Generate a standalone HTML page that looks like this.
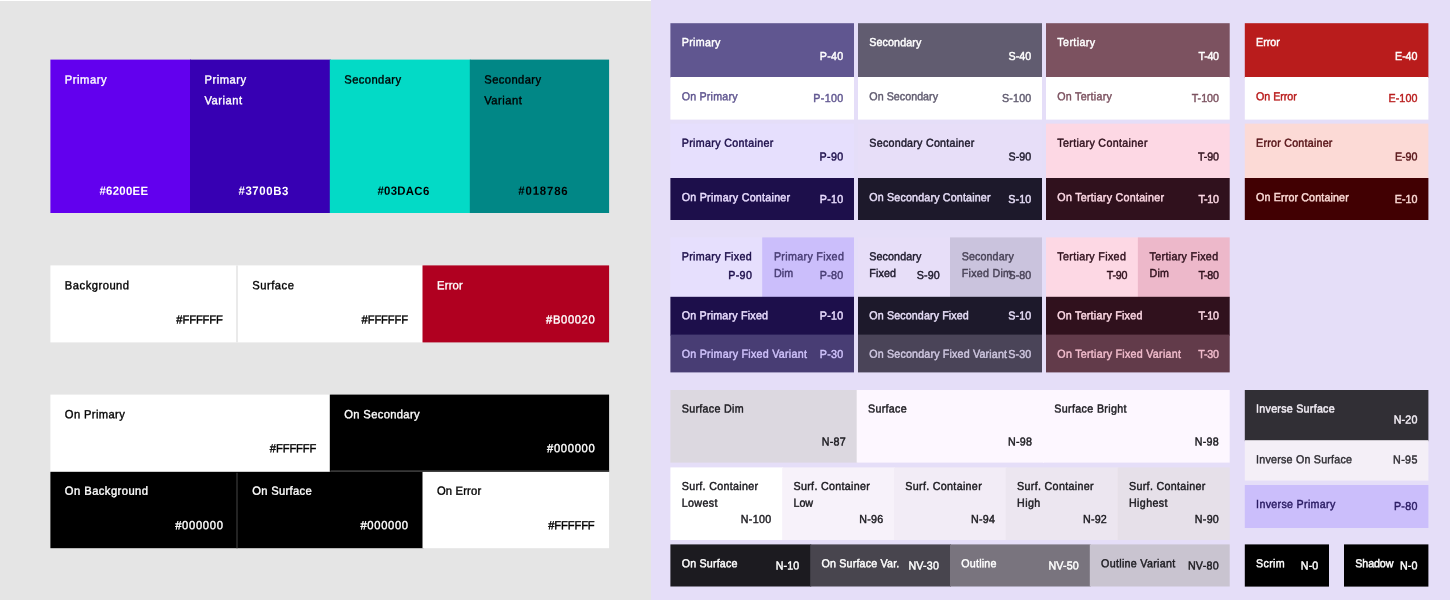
<!DOCTYPE html>
<html lang="en">
<head>
<meta charset="utf-8">
<title>Color system</title>
<style>
html,body{margin:0;padding:0;}
body{width:1450px;height:600px;overflow:hidden;position:relative;background:#E5DEF8;font-family:"Liberation Sans",sans-serif;}
#bg{position:absolute;left:0;top:0;width:1450px;height:600px;display:block;}
.t{position:absolute;white-space:nowrap;margin:0;padding:0;}
.L{font-size:11.2px;line-height:20px;letter-spacing:0px;font-weight:400;-webkit-text-stroke:0.35px currentColor;}
.LB{font-size:11.4px;line-height:20px;letter-spacing:0px;font-weight:700;}
.LC{font-size:11.2px;line-height:20px;letter-spacing:0px;font-weight:400;-webkit-text-stroke:0.35px currentColor;}
.R{font-size:10.7px;line-height:16px;letter-spacing:0.3px;font-weight:400;-webkit-text-stroke:0.42px currentColor;}
</style>
</head>
<body>
<svg id="bg" width="1450" height="600" viewBox="0 0 1450 600">
<rect x="0" y="0" width="651" height="600" fill="#E5E5E5"/>
<rect x="0" y="0" width="651" height="1" fill="#FFFFFF"/>
<rect x="50.4" y="59.6" width="140.6" height="153.4" fill="#6200EE"/>
<rect x="190" y="59.6" width="140.8" height="153.4" fill="#3700B3"/>
<rect x="329.8" y="59.6" width="141" height="153.4" fill="#03DAC6"/>
<rect x="469.8" y="59.6" width="139.3" height="153.4" fill="#018786"/>
<rect x="50.4" y="265.4" width="373.1" height="77" fill="#FFFFFF"/>
<rect x="422.5" y="265.4" width="186.6" height="77" fill="#B00020"/>
<rect x="50.4" y="394.6" width="280.4" height="78.2" fill="#FFFFFF"/>
<rect x="329.8" y="394.6" width="279.3" height="77.2" fill="#000000"/>
<rect x="50.4" y="471.8" width="373.1" height="76.4" fill="#000000"/>
<rect x="422.5" y="471.8" width="186.6" height="76.4" fill="#FFFFFF"/>
<rect x="236.3" y="472.8" width="1.4" height="75.4" fill="#333333"/>
<rect x="236.2" y="265.4" width="1.6" height="77" fill="#E5E5E5"/>
<rect x="330.6" y="470.3" width="278.5" height="1.5" fill="#3C3C3C"/>
<rect x="651" y="0" width="799" height="600" fill="#E5DEF8"/>
<rect x="670.4" y="23.2" width="183.6" height="54.8" fill="#605690"/>
<rect x="670.4" y="77" width="183.6" height="42.6" fill="#FFFFFF"/>
<rect x="670.4" y="123.6" width="183.6" height="55.4" fill="#E6DFFD"/>
<rect x="670.4" y="178" width="183.6" height="42" fill="#1D0F4B"/>
<rect x="858" y="23.2" width="184" height="54.8" fill="#615C70"/>
<rect x="858" y="77" width="184" height="42.6" fill="#FFFFFF"/>
<rect x="858" y="123.6" width="184" height="55.4" fill="#E7DEF8"/>
<rect x="858" y="178" width="184" height="42" fill="#1D192B"/>
<rect x="1046" y="23.2" width="183.7" height="54.8" fill="#7C5260"/>
<rect x="1046" y="77" width="183.7" height="42.6" fill="#FFFFFF"/>
<rect x="1046" y="123.6" width="183.7" height="55.4" fill="#FDD8E4"/>
<rect x="1046" y="178" width="183.7" height="42" fill="#30111D"/>
<rect x="1244.8" y="23.2" width="183.6" height="54.8" fill="#B91C1C"/>
<rect x="1244.8" y="77" width="183.6" height="42.6" fill="#FFFFFF"/>
<rect x="1244.8" y="123.6" width="183.6" height="55.4" fill="#FCDAD6"/>
<rect x="1244.8" y="178" width="183.6" height="42" fill="#410002"/>
<rect x="670.4" y="237.4" width="92.8" height="60.4" fill="#E6DFFD"/>
<rect x="762.2" y="237.4" width="91.8" height="60.4" fill="#CBBEFB"/>
<rect x="670.4" y="296.8" width="183.6" height="38.8" fill="#1D0F4B"/>
<rect x="670.4" y="334.6" width="183.6" height="37.8" fill="#483D74"/>
<rect x="858" y="237.4" width="93" height="60.4" fill="#E7DEF8"/>
<rect x="950" y="237.4" width="92" height="60.4" fill="#CAC3DD"/>
<rect x="858" y="296.8" width="184" height="38.8" fill="#1D192B"/>
<rect x="858" y="334.6" width="184" height="37.8" fill="#4A4458"/>
<rect x="1046" y="237.4" width="92.85" height="60.4" fill="#FDD8E4"/>
<rect x="1137.85" y="237.4" width="91.85" height="60.4" fill="#EDB8CA"/>
<rect x="1046" y="296.8" width="183.7" height="38.8" fill="#30111D"/>
<rect x="1046" y="334.6" width="183.7" height="37.8" fill="#623B4A"/>
<rect x="670.4" y="390" width="187.3" height="72.6" fill="#DCD8E0"/>
<rect x="856.7" y="390" width="187.3" height="72.6" fill="#FDF7FF"/>
<rect x="1043" y="390" width="186.7" height="72.6" fill="#FDF7FF"/>
<rect x="670.4" y="467.4" width="112.8" height="72.6" fill="#FFFFFF"/>
<rect x="782.2" y="467.4" width="112.8" height="72.6" fill="#F7F2FA"/>
<rect x="894" y="467.4" width="112.8" height="72.6" fill="#F2ECF6"/>
<rect x="1005.8" y="467.4" width="112.9" height="72.6" fill="#ECE6F0"/>
<rect x="1117.7" y="467.4" width="112" height="72.6" fill="#E6E0E9"/>
<rect x="670.4" y="544.4" width="140.8" height="42.1" fill="#1C1B20"/>
<rect x="810.2" y="544.4" width="140.8" height="42.1" fill="#48454E"/>
<rect x="950" y="544.4" width="140.8" height="42.1" fill="#79747E"/>
<rect x="1089.8" y="544.4" width="139.9" height="42.1" fill="#C9C4D0"/>
<rect x="1244.8" y="390" width="183.6" height="51.2" fill="#312F35"/>
<rect x="1244.8" y="440.2" width="183.6" height="40.4" fill="#F4EFF7"/>
<rect x="1244.8" y="485" width="183.6" height="43" fill="#CBBEFB"/>
<rect x="1244.8" y="544.4" width="84.2" height="42.2" fill="#000000"/>
<rect x="1344" y="544.4" width="84.4" height="42.2" fill="#000000"/>
</svg>
<div class="t L" id="t0" style="top:69px;color:#FFFFFF;letter-spacing:0.531px;left:64px;transform:translate(0.85px,0.42px) rotate(0.03deg) scale(1,1.055);transform-origin:0 13.88px;">Primary</div>
<div class="t LB" id="t1" style="top:180px;color:#FFFFFF;letter-spacing:0.283px;width:90px;text-align:center;left:78px;transform:translate(0.87px,0.85px) rotate(0.03deg) scale(1,1.05);transform-origin:0 13.95px;">#6200EE</div>
<div class="t L" id="t2" style="top:69px;color:#FFFFFF;letter-spacing:0.531px;left:204px;transform:translate(0.45px,0.42px) rotate(0.03deg) scale(1,1.055);transform-origin:0 13.88px;">Primary</div>
<div class="t L" id="t3" style="top:90px;color:#FFFFFF;letter-spacing:0.489px;left:204px;transform:translate(0.45px,0.22px) rotate(0.03deg) scale(1,1.055);transform-origin:0 13.88px;">Variant</div>
<div class="t LB" id="t4" style="top:180px;color:#FFFFFF;letter-spacing:0.602px;width:90px;text-align:center;left:218px;transform:translate(0.73px,0.85px) rotate(0.03deg) scale(1,1.05);transform-origin:0 13.95px;">#3700B3</div>
<div class="t L" id="t5" style="top:69px;color:#000000;letter-spacing:0.419px;left:344px;transform:translate(0.25px,0.42px) rotate(0.03deg) scale(1,1.055);transform-origin:0 13.88px;">Secondary</div>
<div class="t LB" id="t6" style="top:180px;color:#000000;letter-spacing:0.300px;width:90px;text-align:center;left:358px;transform:translate(0.48px,0.85px) rotate(0.03deg) scale(1,1.05);transform-origin:0 13.95px;">#03DAC6</div>
<div class="t L" id="t7" style="top:69px;color:#000000;letter-spacing:0.419px;left:484px;transform:translate(0.25px,0.42px) rotate(0.03deg) scale(1,1.055);transform-origin:0 13.88px;">Secondary</div>
<div class="t L" id="t8" style="top:90px;color:#000000;letter-spacing:0.489px;left:484px;transform:translate(0.25px,0.22px) rotate(0.03deg) scale(1,1.055);transform-origin:0 13.88px;">Variant</div>
<div class="t LB" id="t9" style="top:180px;color:#000000;letter-spacing:0.831px;width:90px;text-align:center;left:498px;transform:translate(0.39px,0.85px) rotate(0.03deg) scale(1,1.05);transform-origin:0 13.95px;">#018786</div>
<div class="t L" id="t10" style="top:275px;color:#000000;letter-spacing:0.500px;left:64px;transform:translate(0.85px,0.32px) rotate(0.03deg) scale(1,1.055);transform-origin:0 13.88px;">Background</div>
<div class="t LC" id="t11" style="top:309px;color:#000000;letter-spacing:-0.115px;width:70px;text-align:right;left:152px;transform:translate(0.78px,0.42px) rotate(0.03deg) scale(1,1.055);transform-origin:0 13.88px;">#FFFFFF</div>
<div class="t L" id="t12" style="top:275px;color:#000000;letter-spacing:0.534px;left:252px;transform:translate(0.15px,0.32px) rotate(0.03deg) scale(1,1.055);transform-origin:0 13.88px;">Surface</div>
<div class="t LC" id="t13" style="top:309px;color:#000000;letter-spacing:-0.115px;width:70px;text-align:right;left:337px;transform:translate(0.98px,0.42px) rotate(0.03deg) scale(1,1.055);transform-origin:0 13.88px;">#FFFFFF</div>
<div class="t L" id="t14" style="top:275px;color:#FFFFFF;letter-spacing:0.250px;left:436px;transform:translate(0.95px,0.32px) rotate(0.03deg) scale(1,1.055);transform-origin:0 13.88px;">Error</div>
<div class="t LC" id="t15" style="top:309px;color:#FFFFFF;letter-spacing:0.633px;width:70px;text-align:right;left:525px;transform:translate(0.33px,0.42px) rotate(0.03deg) scale(1,1.055);transform-origin:0 13.88px;">#B00020</div>
<div class="t L" id="t16" style="top:404px;color:#000000;letter-spacing:0.378px;left:64px;transform:translate(0.85px,0.12px) rotate(0.03deg) scale(1,1.055);transform-origin:0 13.88px;">On Primary</div>
<div class="t LC" id="t17" style="top:438px;color:#000000;letter-spacing:-0.115px;width:70px;text-align:right;left:246px;transform:translate(0.28px,0.32px) rotate(0.03deg) scale(1,1.055);transform-origin:0 13.88px;">#FFFFFF</div>
<div class="t L" id="t18" style="top:404px;color:#FFFFFF;letter-spacing:0.346px;left:344px;transform:translate(0.25px,0.12px) rotate(0.03deg) scale(1,1.055);transform-origin:0 13.88px;">On Secondary</div>
<div class="t LC" id="t19" style="top:438px;color:#FFFFFF;letter-spacing:0.693px;width:70px;text-align:right;left:525px;transform:translate(0.39px,0.32px) rotate(0.03deg) scale(1,1.055);transform-origin:0 13.88px;">#000000</div>
<div class="t L" id="t20" style="top:480px;color:#FFFFFF;letter-spacing:0.452px;left:64px;transform:translate(0.85px,0.82px) rotate(0.03deg) scale(1,1.055);transform-origin:0 13.88px;">On Background</div>
<div class="t LC" id="t21" style="top:515px;color:#FFFFFF;letter-spacing:0.693px;width:70px;text-align:right;left:153px;transform:translate(0.59px,0.12px) rotate(0.03deg) scale(1,1.055);transform-origin:0 13.88px;">#000000</div>
<div class="t L" id="t22" style="top:480px;color:#FFFFFF;letter-spacing:0.335px;left:252px;transform:translate(0.15px,0.82px) rotate(0.03deg) scale(1,1.055);transform-origin:0 13.88px;">On Surface</div>
<div class="t LC" id="t23" style="top:515px;color:#FFFFFF;letter-spacing:0.693px;width:70px;text-align:right;left:338px;transform:translate(0.79px,0.12px) rotate(0.03deg) scale(1,1.055);transform-origin:0 13.88px;">#000000</div>
<div class="t L" id="t24" style="top:480px;color:#000000;letter-spacing:0.187px;left:436px;transform:translate(0.95px,0.82px) rotate(0.03deg) scale(1,1.055);transform-origin:0 13.88px;">On Error</div>
<div class="t LC" id="t25" style="top:515px;color:#000000;letter-spacing:-0.115px;width:70px;text-align:right;left:524px;transform:translate(0.59px,0.12px) rotate(0.03deg) scale(1,1.055);transform-origin:0 13.88px;">#FFFFFF</div>
<div class="t R" id="t26" style="top:34px;color:#FFFFFF;letter-spacing:0.319px;left:681px;transform:translate(0.70px,0.09px) rotate(0.03deg) scale(1,1.08);transform-origin:0 11.71px;">Primary</div>
<div class="t R" id="t27" style="top:47px;color:#FFFFFF;letter-spacing:0.297px;width:70px;text-align:right;left:773px;transform:translate(0.60px,0.89px) rotate(0.03deg) scale(1,1.08);transform-origin:0 11.71px;">P-40</div>
<div class="t R" id="t28" style="top:88px;color:#605690;letter-spacing:0.200px;left:681px;transform:translate(0.70px,0.29px) rotate(0.03deg) scale(1,1.08);transform-origin:0 11.71px;">On Primary</div>
<div class="t R" id="t29" style="top:89px;color:#605690;letter-spacing:0.375px;width:70px;text-align:right;left:773px;transform:translate(0.67px,0.89px) rotate(0.03deg) scale(1,1.08);transform-origin:0 11.71px;">P-100</div>
<div class="t R" id="t30" style="top:134px;color:#1D0F4B;letter-spacing:0.343px;left:681px;transform:translate(0.70px,0.69px) rotate(0.03deg) scale(1,1.08);transform-origin:0 11.71px;">Primary Container</div>
<div class="t R" id="t31" style="top:148px;color:#1D0F4B;letter-spacing:0.384px;width:70px;text-align:right;left:773px;transform:translate(0.68px,0.49px) rotate(0.03deg) scale(1,1.08);transform-origin:0 11.71px;">P-90</div>
<div class="t R" id="t32" style="top:189px;color:#E9DDFF;letter-spacing:0.267px;left:681px;transform:translate(0.70px,0.09px) rotate(0.03deg) scale(1,1.08);transform-origin:0 11.71px;">On Primary Container</div>
<div class="t R" id="t33" style="top:190px;color:#E9DDFF;letter-spacing:0.298px;width:70px;text-align:right;left:773px;transform:translate(0.60px,0.89px) rotate(0.03deg) scale(1,1.08);transform-origin:0 11.71px;">P-10</div>
<div class="t R" id="t34" style="top:34px;color:#FFFFFF;letter-spacing:0.116px;left:869px;transform:translate(0.30px,0.09px) rotate(0.03deg) scale(1,1.08);transform-origin:0 11.71px;">Secondary</div>
<div class="t R" id="t35" style="top:47px;color:#FFFFFF;letter-spacing:0.069px;width:70px;text-align:right;left:961px;transform:translate(0.37px,0.89px) rotate(0.03deg) scale(1,1.08);transform-origin:0 11.71px;">S-40</div>
<div class="t R" id="t36" style="top:88px;color:#615C70;letter-spacing:0.037px;left:869px;transform:translate(0.30px,0.29px) rotate(0.03deg) scale(1,1.08);transform-origin:0 11.71px;">On Secondary</div>
<div class="t R" id="t37" style="top:89px;color:#615C70;letter-spacing:0.175px;width:70px;text-align:right;left:961px;transform:translate(0.47px,0.89px) rotate(0.03deg) scale(1,1.08);transform-origin:0 11.71px;">S-100</div>
<div class="t R" id="t38" style="top:134px;color:#1D192B;letter-spacing:0.256px;left:869px;transform:translate(0.30px,0.69px) rotate(0.03deg) scale(1,1.08);transform-origin:0 11.71px;">Secondary Container</div>
<div class="t R" id="t39" style="top:148px;color:#1D192B;letter-spacing:0.097px;width:70px;text-align:right;left:961px;transform:translate(0.40px,0.49px) rotate(0.03deg) scale(1,1.08);transform-origin:0 11.71px;">S-90</div>
<div class="t R" id="t40" style="top:189px;color:#E7DEF8;letter-spacing:0.169px;left:869px;transform:translate(0.30px,0.09px) rotate(0.03deg) scale(1,1.08);transform-origin:0 11.71px;">On Secondary Container</div>
<div class="t R" id="t41" style="top:190px;color:#E7DEF8;letter-spacing:0.136px;width:70px;text-align:right;left:961px;transform:translate(0.44px,0.89px) rotate(0.03deg) scale(1,1.08);transform-origin:0 11.71px;">S-10</div>
<div class="t R" id="t42" style="top:34px;color:#FFFFFF;letter-spacing:0.398px;left:1057px;transform:translate(0.30px,0.09px) rotate(0.03deg) scale(1,1.08);transform-origin:0 11.71px;">Tertiary</div>
<div class="t R" id="t43" style="top:47px;color:#FFFFFF;letter-spacing:-0.332px;width:70px;text-align:right;left:1148px;transform:translate(0.67px,0.89px) rotate(0.03deg) scale(1,1.08);transform-origin:0 11.71px;">T-40</div>
<div class="t R" id="t44" style="top:88px;color:#7C5260;letter-spacing:0.240px;left:1057px;transform:translate(0.30px,0.29px) rotate(0.03deg) scale(1,1.08);transform-origin:0 11.71px;">On Tertiary</div>
<div class="t R" id="t45" style="top:89px;color:#7C5260;letter-spacing:0.000px;width:70px;text-align:right;left:1149px;transform:translate(0.00px,0.89px) rotate(0.03deg) scale(1,1.08);transform-origin:0 11.71px;">T-100</div>
<div class="t R" id="t46" style="top:134px;color:#30111D;letter-spacing:0.341px;left:1057px;transform:translate(0.30px,0.69px) rotate(0.03deg) scale(1,1.08);transform-origin:0 11.71px;">Tertiary Container</div>
<div class="t R" id="t47" style="top:148px;color:#30111D;letter-spacing:-0.166px;width:70px;text-align:right;left:1148px;transform:translate(0.83px,0.49px) rotate(0.03deg) scale(1,1.08);transform-origin:0 11.71px;">T-90</div>
<div class="t R" id="t48" style="top:189px;color:#FDD8E4;letter-spacing:0.265px;left:1057px;transform:translate(0.30px,0.09px) rotate(0.03deg) scale(1,1.08);transform-origin:0 11.71px;">On Tertiary Container</div>
<div class="t R" id="t49" style="top:190px;color:#FDD8E4;letter-spacing:-0.266px;width:70px;text-align:right;left:1148px;transform:translate(0.73px,0.89px) rotate(0.03deg) scale(1,1.08);transform-origin:0 11.71px;">T-10</div>
<div class="t R" id="t50" style="top:34px;color:#FFFFFF;letter-spacing:-0.025px;left:1256px;transform:translate(0.10px,0.09px) rotate(0.03deg) scale(1,1.08);transform-origin:0 11.71px;">Error</div>
<div class="t R" id="t51" style="top:47px;color:#FFFFFF;letter-spacing:-0.100px;width:70px;text-align:right;left:1347px;transform:translate(0.30px,0.89px) rotate(0.03deg) scale(1,1.08);transform-origin:0 11.71px;">E-40</div>
<div class="t R" id="t52" style="top:88px;color:#B91C1C;letter-spacing:-0.042px;left:1256px;transform:translate(0.10px,0.29px) rotate(0.03deg) scale(1,1.08);transform-origin:0 11.71px;">On Error</div>
<div class="t R" id="t53" style="top:89px;color:#B91C1C;letter-spacing:0.100px;width:70px;text-align:right;left:1347px;transform:translate(0.50px,0.89px) rotate(0.03deg) scale(1,1.08);transform-origin:0 11.71px;">E-100</div>
<div class="t R" id="t54" style="top:134px;color:#551216;letter-spacing:0.233px;left:1256px;transform:translate(0.10px,0.69px) rotate(0.03deg) scale(1,1.08);transform-origin:0 11.71px;">Error Container</div>
<div class="t R" id="t55" style="top:148px;color:#551216;letter-spacing:-0.034px;width:70px;text-align:right;left:1347px;transform:translate(0.37px,0.49px) rotate(0.03deg) scale(1,1.08);transform-origin:0 11.71px;">E-90</div>
<div class="t R" id="t56" style="top:189px;color:#FCDAD6;letter-spacing:0.136px;left:1256px;transform:translate(0.10px,0.09px) rotate(0.03deg) scale(1,1.08);transform-origin:0 11.71px;">On Error Container</div>
<div class="t R" id="t57" style="top:190px;color:#FCDAD6;letter-spacing:0.001px;width:70px;text-align:right;left:1347px;transform:translate(0.40px,0.89px) rotate(0.03deg) scale(1,1.08);transform-origin:0 11.71px;">E-10</div>
<div class="t R" id="t58" style="top:248px;color:#1D0F4B;letter-spacing:0.335px;left:681px;transform:translate(0.70px,0.29px) rotate(0.03deg) scale(1,1.08);transform-origin:0 11.71px;">Primary Fixed</div>
<div class="t R" id="t59" style="top:266px;color:#1D0F4B;letter-spacing:0.384px;width:70px;text-align:right;left:682px;transform:translate(0.28px,0.89px) rotate(0.03deg) scale(1,1.08);transform-origin:0 11.71px;">P-90</div>
<div class="t R" id="t60" style="top:248px;color:#483D74;letter-spacing:0.335px;left:773px;transform:translate(0.90px,0.29px) rotate(0.03deg) scale(1,1.08);transform-origin:0 11.71px;">Primary Fixed</div>
<div class="t R" id="t61" style="top:264px;color:#483D74;letter-spacing:0.125px;left:773px;transform:translate(0.90px,0.89px) rotate(0.03deg) scale(1,1.08);transform-origin:0 11.71px;">Dim</div>
<div class="t R" id="t62" style="top:266px;color:#483D74;letter-spacing:0.300px;width:70px;text-align:right;left:773px;transform:translate(0.60px,0.89px) rotate(0.03deg) scale(1,1.08);transform-origin:0 11.71px;">P-80</div>
<div class="t R" id="t63" style="top:307px;color:#E9DDFF;letter-spacing:0.212px;left:681px;transform:translate(0.70px,0.29px) rotate(0.03deg) scale(1,1.08);transform-origin:0 11.71px;">On Primary Fixed</div>
<div class="t R" id="t64" style="top:307px;color:#E9DDFF;letter-spacing:0.298px;width:70px;text-align:right;left:773px;transform:translate(0.60px,0.49px) rotate(0.03deg) scale(1,1.08);transform-origin:0 11.71px;">P-10</div>
<div class="t R" id="t65" style="top:345px;color:#CFC2FB;letter-spacing:0.261px;left:681px;transform:translate(0.70px,0.79px) rotate(0.03deg) scale(1,1.08);transform-origin:0 11.71px;">On Primary Fixed Variant</div>
<div class="t R" id="t66" style="top:345px;color:#CFC2FB;letter-spacing:0.299px;width:70px;text-align:right;left:773px;transform:translate(0.60px,0.89px) rotate(0.03deg) scale(1,1.08);transform-origin:0 11.71px;">P-30</div>
<div class="t R" id="t67" style="top:248px;color:#1D192B;letter-spacing:0.116px;left:869px;transform:translate(0.30px,0.29px) rotate(0.03deg) scale(1,1.08);transform-origin:0 11.71px;">Secondary</div>
<div class="t R" id="t68" style="top:264px;color:#1D192B;letter-spacing:0.125px;left:869px;transform:translate(0.30px,0.89px) rotate(0.03deg) scale(1,1.08);transform-origin:0 11.71px;">Fixed</div>
<div class="t R" id="t69" style="top:266px;color:#1D192B;letter-spacing:0.097px;width:70px;text-align:right;left:869px;transform:translate(0.80px,0.89px) rotate(0.03deg) scale(1,1.08);transform-origin:0 11.71px;">S-90</div>
<div class="t R" id="t70" style="top:248px;color:#4A4458;letter-spacing:0.116px;left:961px;transform:translate(0.70px,0.29px) rotate(0.03deg) scale(1,1.08);transform-origin:0 11.71px;">Secondary</div>
<div class="t R" id="t71" style="top:264px;color:#4A4458;letter-spacing:0.271px;left:961px;transform:translate(0.70px,0.89px) rotate(0.03deg) scale(1,1.08);transform-origin:0 11.71px;">Fixed Dim</div>
<div class="t R" id="t72" style="top:266px;color:#4A4458;letter-spacing:0.069px;width:70px;text-align:right;left:961px;transform:translate(0.37px,0.89px) rotate(0.03deg) scale(1,1.08);transform-origin:0 11.71px;">S-80</div>
<div class="t R" id="t73" style="top:307px;color:#E7DEF8;letter-spacing:0.123px;left:869px;transform:translate(0.30px,0.29px) rotate(0.03deg) scale(1,1.08);transform-origin:0 11.71px;">On Secondary Fixed</div>
<div class="t R" id="t74" style="top:307px;color:#E7DEF8;letter-spacing:0.136px;width:70px;text-align:right;left:961px;transform:translate(0.44px,0.49px) rotate(0.03deg) scale(1,1.08);transform-origin:0 11.71px;">S-10</div>
<div class="t R" id="t75" style="top:345px;color:#CFC7E0;letter-spacing:0.172px;left:869px;transform:translate(0.30px,0.79px) rotate(0.03deg) scale(1,1.08);transform-origin:0 11.71px;">On Secondary Fixed Variant</div>
<div class="t R" id="t76" style="top:345px;color:#CFC7E0;letter-spacing:0.167px;width:70px;text-align:right;left:961px;transform:translate(0.47px,0.89px) rotate(0.03deg) scale(1,1.08);transform-origin:0 11.71px;">S-30</div>
<div class="t R" id="t77" style="top:248px;color:#30111D;letter-spacing:0.337px;left:1057px;transform:translate(0.30px,0.29px) rotate(0.03deg) scale(1,1.08);transform-origin:0 11.71px;">Tertiary Fixed</div>
<div class="t R" id="t78" style="top:266px;color:#30111D;letter-spacing:-0.166px;width:70px;text-align:right;left:1057px;transform:translate(0.38px,0.89px) rotate(0.03deg) scale(1,1.08);transform-origin:0 11.71px;">T-90</div>
<div class="t R" id="t79" style="top:248px;color:#30111D;letter-spacing:0.337px;left:1149px;transform:translate(0.55px,0.29px) rotate(0.03deg) scale(1,1.08);transform-origin:0 11.71px;">Tertiary Fixed</div>
<div class="t R" id="t80" style="top:264px;color:#30111D;letter-spacing:0.125px;left:1149px;transform:translate(0.55px,0.89px) rotate(0.03deg) scale(1,1.08);transform-origin:0 11.71px;">Dim</div>
<div class="t R" id="t81" style="top:266px;color:#30111D;letter-spacing:-0.266px;width:70px;text-align:right;left:1148px;transform:translate(0.73px,0.89px) rotate(0.03deg) scale(1,1.08);transform-origin:0 11.71px;">T-80</div>
<div class="t R" id="t82" style="top:307px;color:#FDD8E4;letter-spacing:0.241px;left:1057px;transform:translate(0.30px,0.29px) rotate(0.03deg) scale(1,1.08);transform-origin:0 11.71px;">On Tertiary Fixed</div>
<div class="t R" id="t83" style="top:307px;color:#FDD8E4;letter-spacing:-0.266px;width:70px;text-align:right;left:1148px;transform:translate(0.73px,0.49px) rotate(0.03deg) scale(1,1.08);transform-origin:0 11.71px;">T-10</div>
<div class="t R" id="t84" style="top:345px;color:#F1BCCC;letter-spacing:0.268px;left:1057px;transform:translate(0.30px,0.79px) rotate(0.03deg) scale(1,1.08);transform-origin:0 11.71px;">On Tertiary Fixed Variant</div>
<div class="t R" id="t85" style="top:345px;color:#F1BCCC;letter-spacing:-0.230px;width:70px;text-align:right;left:1148px;transform:translate(0.77px,0.89px) rotate(0.03deg) scale(1,1.08);transform-origin:0 11.71px;">T-30</div>
<div class="t R" id="t86" style="top:400px;color:#1C1B20;letter-spacing:0.320px;left:681px;transform:translate(0.70px,0.49px) rotate(0.03deg) scale(1,1.08);transform-origin:0 11.71px;">Surface Dim</div>
<div class="t R" id="t87" style="top:433px;color:#1C1B20;letter-spacing:0.234px;width:70px;text-align:right;left:775px;transform:translate(0.83px,0.49px) rotate(0.03deg) scale(1,1.08);transform-origin:0 11.71px;">N-87</div>
<div class="t R" id="t88" style="top:400px;color:#1C1B20;letter-spacing:0.315px;left:868px;transform:translate(0.00px,0.49px) rotate(0.03deg) scale(1,1.08);transform-origin:0 11.71px;">Surface</div>
<div class="t R" id="t89" style="top:433px;color:#1C1B20;letter-spacing:0.201px;width:70px;text-align:right;left:962px;transform:translate(0.10px,0.49px) rotate(0.03deg) scale(1,1.08);transform-origin:0 11.71px;">N-98</div>
<div class="t R" id="t90" style="top:400px;color:#1C1B20;letter-spacing:0.347px;left:1054px;transform:translate(0.30px,0.49px) rotate(0.03deg) scale(1,1.08);transform-origin:0 11.71px;">Surface Bright</div>
<div class="t R" id="t91" style="top:433px;color:#1C1B20;letter-spacing:0.201px;width:70px;text-align:right;left:1148px;transform:translate(0.80px,0.49px) rotate(0.03deg) scale(1,1.08);transform-origin:0 11.71px;">N-98</div>
<div class="t R" id="t92" style="top:477px;color:#1C1B20;letter-spacing:0.322px;left:681px;transform:translate(0.70px,0.89px) rotate(0.03deg) scale(1,1.08);transform-origin:0 11.71px;">Surf. Container</div>
<div class="t R" id="t93" style="top:494px;color:#1C1B20;letter-spacing:0.380px;left:681px;transform:translate(0.70px,0.69px) rotate(0.03deg) scale(1,1.08);transform-origin:0 11.71px;">Lowest</div>
<div class="t R" id="t94" style="top:510px;color:#1C1B20;letter-spacing:0.350px;width:70px;text-align:right;left:701px;transform:translate(0.65px,0.89px) rotate(0.03deg) scale(1,1.08);transform-origin:0 11.71px;">N-100</div>
<div class="t R" id="t95" style="top:477px;color:#1C1B20;letter-spacing:0.322px;left:793px;transform:translate(0.50px,0.89px) rotate(0.03deg) scale(1,1.08);transform-origin:0 11.71px;">Surf. Container</div>
<div class="t R" id="t96" style="top:494px;color:#1C1B20;letter-spacing:-0.050px;left:793px;transform:translate(0.50px,0.69px) rotate(0.03deg) scale(1,1.08);transform-origin:0 11.71px;">Low</div>
<div class="t R" id="t97" style="top:510px;color:#1C1B20;letter-spacing:0.234px;width:70px;text-align:right;left:813px;transform:translate(0.33px,0.89px) rotate(0.03deg) scale(1,1.08);transform-origin:0 11.71px;">N-96</div>
<div class="t R" id="t98" style="top:477px;color:#1C1B20;letter-spacing:0.322px;left:905px;transform:translate(0.30px,0.89px) rotate(0.03deg) scale(1,1.08);transform-origin:0 11.71px;">Surf. Container</div>
<div class="t R" id="t99" style="top:510px;color:#1C1B20;letter-spacing:0.203px;width:70px;text-align:right;left:925px;transform:translate(0.10px,0.89px) rotate(0.03deg) scale(1,1.08);transform-origin:0 11.71px;">N-94</div>
<div class="t R" id="t100" style="top:477px;color:#1C1B20;letter-spacing:0.322px;left:1017px;transform:translate(0.10px,0.89px) rotate(0.03deg) scale(1,1.08);transform-origin:0 11.71px;">Surf. Container</div>
<div class="t R" id="t101" style="top:494px;color:#1C1B20;letter-spacing:0.366px;left:1017px;transform:translate(0.10px,0.69px) rotate(0.03deg) scale(1,1.08);transform-origin:0 11.71px;">High</div>
<div class="t R" id="t102" style="top:510px;color:#1C1B20;letter-spacing:0.202px;width:70px;text-align:right;left:1037px;transform:translate(0.00px,0.89px) rotate(0.03deg) scale(1,1.08);transform-origin:0 11.71px;">N-92</div>
<div class="t R" id="t103" style="top:477px;color:#1C1B20;letter-spacing:0.322px;left:1129px;transform:translate(0.00px,0.89px) rotate(0.03deg) scale(1,1.08);transform-origin:0 11.71px;">Surf. Container</div>
<div class="t R" id="t104" style="top:494px;color:#1C1B20;letter-spacing:0.368px;left:1129px;transform:translate(0.00px,0.69px) rotate(0.03deg) scale(1,1.08);transform-origin:0 11.71px;">Highest</div>
<div class="t R" id="t105" style="top:510px;color:#1C1B20;letter-spacing:0.265px;width:70px;text-align:right;left:1149px;transform:translate(0.07px,0.89px) rotate(0.03deg) scale(1,1.08);transform-origin:0 11.71px;">N-90</div>
<div class="t R" id="t106" style="top:555px;color:#FFFFFF;letter-spacing:0.188px;left:681px;transform:translate(0.70px,0.29px) rotate(0.03deg) scale(1,1.08);transform-origin:0 11.71px;">On Surface</div>
<div class="t R" id="t107" style="top:557px;color:#FFFFFF;letter-spacing:0.068px;width:70px;text-align:right;left:729px;transform:translate(0.17px,0.49px) rotate(0.03deg) scale(1,1.08);transform-origin:0 11.71px;">N-10</div>
<div class="t R" id="t108" style="top:555px;color:#FFFFFF;letter-spacing:0.184px;left:821px;transform:translate(0.50px,0.29px) rotate(0.03deg) scale(1,1.08);transform-origin:0 11.71px;">On Surface Var.</div>
<div class="t R" id="t109" style="top:557px;color:#FFFFFF;letter-spacing:0.200px;width:70px;text-align:right;left:869px;transform:translate(0.10px,0.49px) rotate(0.03deg) scale(1,1.08);transform-origin:0 11.71px;">NV-30</div>
<div class="t R" id="t110" style="top:555px;color:#FFFFFF;letter-spacing:0.206px;left:961px;transform:translate(0.30px,0.29px) rotate(0.03deg) scale(1,1.08);transform-origin:0 11.71px;">Outline</div>
<div class="t R" id="t111" style="top:557px;color:#FFFFFF;letter-spacing:0.125px;width:70px;text-align:right;left:1008px;transform:translate(0.82px,0.49px) rotate(0.03deg) scale(1,1.08);transform-origin:0 11.71px;">NV-50</div>
<div class="t R" id="t112" style="top:555px;color:#1C1B20;letter-spacing:0.300px;left:1101px;transform:translate(0.10px,0.29px) rotate(0.03deg) scale(1,1.08);transform-origin:0 11.71px;">Outline Variant</div>
<div class="t R" id="t113" style="top:557px;color:#1C1B20;letter-spacing:0.250px;width:70px;text-align:right;left:1148px;transform:translate(0.85px,0.49px) rotate(0.03deg) scale(1,1.08);transform-origin:0 11.71px;">NV-80</div>
<div class="t R" id="t114" style="top:400px;color:#F4EFF7;letter-spacing:0.264px;left:1256px;transform:translate(0.10px,0.49px) rotate(0.03deg) scale(1,1.08);transform-origin:0 11.71px;">Inverse Surface</div>
<div class="t R" id="t115" style="top:411px;color:#F4EFF7;letter-spacing:0.200px;width:70px;text-align:right;left:1347px;transform:translate(0.60px,0.49px) rotate(0.03deg) scale(1,1.08);transform-origin:0 11.71px;">N-20</div>
<div class="t R" id="t116" style="top:451px;color:#312F35;letter-spacing:0.225px;left:1256px;transform:translate(0.10px,0.29px) rotate(0.03deg) scale(1,1.08);transform-origin:0 11.71px;">Inverse On Surface</div>
<div class="t R" id="t117" style="top:451px;color:#312F35;letter-spacing:0.399px;width:70px;text-align:right;left:1347px;transform:translate(0.80px,0.49px) rotate(0.03deg) scale(1,1.08);transform-origin:0 11.71px;">N-95</div>
<div class="t R" id="t118" style="top:495px;color:#2B1C64;letter-spacing:0.308px;left:1256px;transform:translate(0.10px,0.89px) rotate(0.03deg) scale(1,1.08);transform-origin:0 11.71px;">Inverse Primary</div>
<div class="t R" id="t119" style="top:497px;color:#2B1C64;letter-spacing:0.300px;width:70px;text-align:right;left:1347px;transform:translate(0.70px,0.89px) rotate(0.03deg) scale(1,1.08);transform-origin:0 11.71px;">P-80</div>
<div class="t R" id="t120" style="top:555px;color:#FFFFFF;letter-spacing:0.325px;left:1256px;transform:translate(0.10px,0.29px) rotate(0.03deg) scale(1,1.08);transform-origin:0 11.71px;">Scrim</div>
<div class="t R" id="t121" style="top:557px;color:#FFFFFF;letter-spacing:0.125px;width:70px;text-align:right;left:1248px;transform:translate(0.42px,0.49px) rotate(0.03deg) scale(1,1.08);transform-origin:0 11.71px;">N-0</div>
<div class="t R" id="t122" style="top:555px;color:#FFFFFF;letter-spacing:-0.100px;left:1355px;transform:translate(0.30px,0.29px) rotate(0.03deg) scale(1,1.08);transform-origin:0 11.71px;">Shadow</div>
<div class="t R" id="t123" style="top:557px;color:#FFFFFF;letter-spacing:0.125px;width:70px;text-align:right;left:1347px;transform:translate(0.53px,0.49px) rotate(0.03deg) scale(1,1.08);transform-origin:0 11.71px;">N-0</div>
</body>
</html>
